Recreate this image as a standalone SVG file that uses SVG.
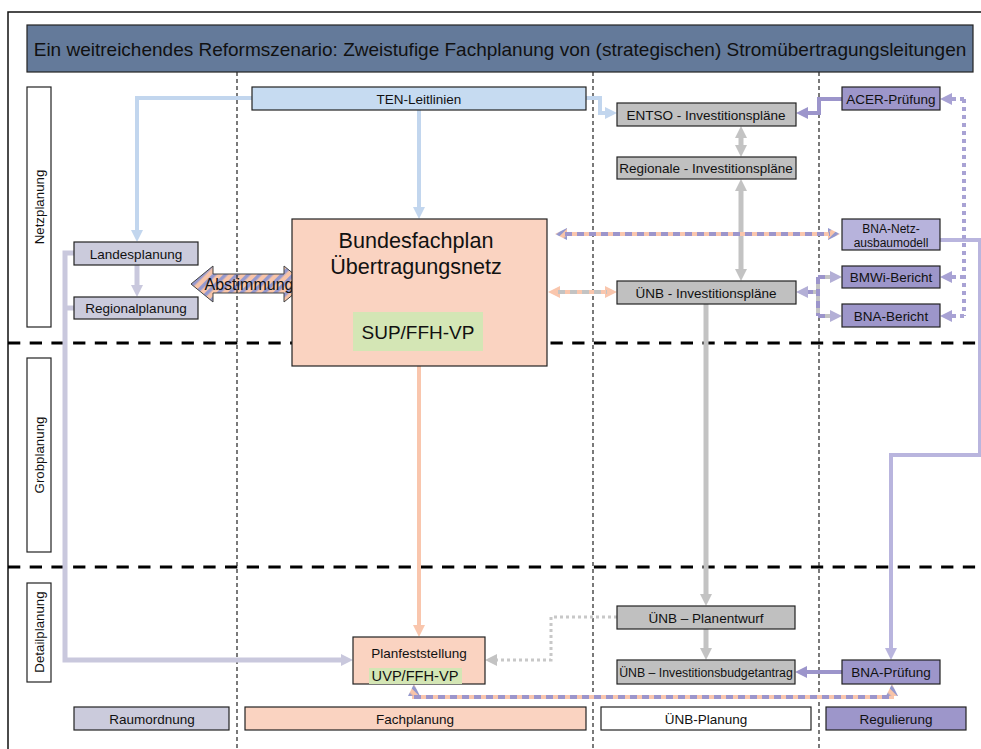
<svg xmlns="http://www.w3.org/2000/svg" width="981" height="749" viewBox="0 0 981 749">
<style>
text{font-family:"Liberation Sans",Arial,sans-serif;fill:#111;}
.lbl{font-size:13.5px;text-anchor:middle;}
.box{stroke:#222;stroke-width:1.2;}
.lav{fill:#CBCBDC;}
.peach{fill:#FAD3C1;}
.gray{fill:#C0C0C0;}
.purple{fill:#9D96CA;}
.green{fill:#D4E6B5;}
.c{fill:none;stroke-linejoin:miter;}
.cBlue{stroke:#C2D6EE;stroke-width:4;}
.cLav{stroke:#C9C8DD;stroke-width:5;}
.cPeach{stroke:#F9C6AD;stroke-width:4;}
.cGray{stroke:#C3C3C3;stroke-width:5;}
.cPur{stroke:#9C95CB;stroke-width:4;}
.cLPur{stroke:#B9B5DE;stroke-width:4;}
.cDotG{stroke:#C8C8C8;stroke-width:3;stroke-dasharray:3,3;}
.cDotP{stroke:#A8A2D4;stroke-width:4;stroke-dasharray:4,4;}
.ov{stroke-dasharray:7,5;}
.hdash{stroke:#000;stroke-width:3;stroke-dasharray:12.3,9.4;fill:none;}
.vdot{stroke:#222;stroke-width:1.2;stroke-dasharray:4,3;fill:none;}
</style>
<defs>
<pattern id="stripes" patternUnits="userSpaceOnUse" width="8" height="8" patternTransform="rotate(45)">
<rect width="8" height="8" fill="#F8C4A8"/>
<rect width="3.5" height="8" fill="#9498CE"/>
</pattern>
<marker id="mBlue" viewBox="0 0 12 12" refX="2" refY="6" markerWidth="12" markerHeight="12" markerUnits="userSpaceOnUse" orient="auto-start-reverse"><path d="M0,0 L12,6 L0,12 z" fill="#C2D6EE"/></marker>
<marker id="mLav" viewBox="0 0 12 12" refX="2" refY="6" markerWidth="12" markerHeight="12" markerUnits="userSpaceOnUse" orient="auto-start-reverse"><path d="M0,0 L12,6 L0,12 z" fill="#C9C8DD"/></marker>
<marker id="mPeach" viewBox="0 0 12 12" refX="2" refY="6" markerWidth="12" markerHeight="12" markerUnits="userSpaceOnUse" orient="auto-start-reverse"><path d="M0,0 L12,6 L0,12 z" fill="#F9C6AD"/></marker>
<marker id="mGray" viewBox="0 0 12 12" refX="2" refY="6" markerWidth="12" markerHeight="12" markerUnits="userSpaceOnUse" orient="auto-start-reverse"><path d="M0,0 L12,6 L0,12 z" fill="#C3C3C3"/></marker>
<marker id="mPur" viewBox="0 0 12 12" refX="2" refY="6" markerWidth="12" markerHeight="12" markerUnits="userSpaceOnUse" orient="auto-start-reverse"><path d="M0,0 L12,6 L0,12 z" fill="#9C95CB"/></marker>
<marker id="mLPur" viewBox="0 0 12 12" refX="2" refY="6" markerWidth="12" markerHeight="12" markerUnits="userSpaceOnUse" orient="auto-start-reverse"><path d="M0,0 L12,6 L0,12 z" fill="#B9B5DE"/></marker>
<marker id="mDotP" viewBox="0 0 12 12" refX="2" refY="6" markerWidth="12" markerHeight="12" markerUnits="userSpaceOnUse" orient="auto-start-reverse"><path d="M0,0 L12,6 L0,12 z" fill="#A8A2D4"/></marker>
<marker id="mMix" viewBox="0 0 12 12" refX="2" refY="6" markerWidth="12" markerHeight="12" markerUnits="userSpaceOnUse" orient="auto-start-reverse"><path d="M0,0 L12,6 L0,12 z" fill="url(#stripes)"/></marker>
<marker id="mMixG" viewBox="0 0 12 12" refX="2" refY="6" markerWidth="12" markerHeight="12" markerUnits="userSpaceOnUse" orient="auto-start-reverse"><path d="M0,0 L12,6 L0,12 z" fill="#B3AFD6"/></marker>
</defs>

<rect width="981" height="749" fill="#fff"/>
<path d="M8,749 V12 H981" fill="none" stroke="#111" stroke-width="1.5"/>

<g id="title">
<rect x="27" y="25" width="946" height="47" fill="#647A9A" stroke="#222" stroke-width="1.2"/>
<text x="500" y="56" font-size="19" text-anchor="middle">Ein weitreichendes Reformszenario: Zweistufige Fachplanung von (strategischen) Stromübertragungsleitungen</text>
</g>

<g id="grid">
<path class="hdash" d="M8,343 H981"/>
<path class="hdash" d="M8,567 H981"/>
</g>

<g id="abstimmung">
<polygon points="191,284 213,266 213,274 284,274 284,266 306,284 284,302 284,293 213,293 213,302" fill="url(#stripes)" stroke="#444" stroke-width="1"/>
<text x="249" y="290" font-size="16" text-anchor="middle">Abstimmung</text>
</g>

<g id="columns">
<path class="vdot" d="M237,72 V749"/>
<path class="vdot" d="M593,72 V749"/>
<path class="vdot" d="M819,72 V749"/>
</g>

<g id="connectors">
<path class="c cBlue" d="M252,98 H137 V232" marker-end="url(#mBlue)"/>
<path class="c cBlue" d="M419,110 V209" marker-end="url(#mBlue)"/>
<path class="c cBlue" d="M586,98 H600 V113 H607" marker-end="url(#mBlue)"/>
<path class="c cLav" d="M137,265 V287" marker-end="url(#mLav)"/>
<path class="c cLav" d="M74,253 H65 V660 H343" marker-end="url(#mLav)"/>
<path class="c cLav" d="M74,308 H65"/>
<path class="c cPeach" d="M419,366 V627" marker-end="url(#mPeach)"/>
<path class="c cGray" d="M741,136 V147" marker-start="url(#mGray)" marker-end="url(#mGray)"/>
<path class="c cGray" d="M741,189 V271" marker-start="url(#mGray)" marker-end="url(#mGray)"/>
<path class="c cGray" d="M706,304 V596" marker-end="url(#mGray)"/>
<path class="c cGray" d="M706,629 V650" marker-end="url(#mGray)"/>
<path class="c cDotG" d="M617,617 H551 V660 H495" marker-end="url(#mGray)"/>
<path class="c cPur" d="M842,672 H805" marker-end="url(#mPur)"/>
<path class="c cPur" d="M842,99 H819 V113 H806" marker-end="url(#mPur)"/>
<path class="c cLPur" d="M940,240 H980 V455 H891 V650" marker-end="url(#mLPur)"/>
<path class="c cDotP" d="M964,99 V316"/>
<path class="c cDotP" d="M964,99 H950" marker-end="url(#mDotP)"/>
<path class="c cDotP" d="M964,277 H950" marker-end="url(#mDotP)"/>
<path class="c cDotP" d="M964,316 H950" marker-end="url(#mDotP)"/>
<path class="c cPeach" d="M565,234 H830" marker-start="url(#mMix)" marker-end="url(#mMix)"/>
<path class="c cPur ov" d="M565,234 H830"/>
<path class="c cPeach" d="M558,292 H607" marker-start="url(#mPeach)" marker-end="url(#mPeach)"/>
<path class="c cGray ov" style="stroke-width:4" d="M558,292 H607"/>
<path class="c cGray" style="stroke-width:4" d="M806,292 H818 M818,277 V316 M818,277 H832 M818,316 H832"/>
<path class="c cPur ov" d="M806,292 H818 M818,277 V316 M818,277 H832 M818,316 H832"/>
<path class="c" d="M806,292 H808" stroke="none" marker-start="url(#mMixG)"/>
<path class="c" d="M830,277 H832" stroke="none" marker-end="url(#mMixG)"/>
<path class="c" d="M830,316 H832" stroke="none" marker-end="url(#mMixG)"/>
<path class="c cPeach" d="M414,694 V697 H892 V694" marker-start="url(#mMix)" marker-end="url(#mMix)"/>
<path class="c cPur ov" d="M414,697 H892"/>
</g>

<g id="lbl-netzplanung">
<rect x="27" y="87" width="24" height="240" fill="#fff" class="box"/>
<text x="44" y="207" font-size="13.3" text-anchor="middle" transform="rotate(-90 44 207)">Netzplanung</text>
</g>
<g id="lbl-grobplanung">
<rect x="27" y="358" width="24" height="194" fill="#fff" class="box"/>
<text x="44" y="455" font-size="13.3" text-anchor="middle" transform="rotate(-90 44 455)">Grobplanung</text>
</g>
<g id="lbl-detailplanung">
<rect x="27" y="583" width="24" height="99" fill="#fff" class="box"/>
<text x="44" y="632" font-size="13.3" text-anchor="middle" transform="rotate(-90 44 632)">Detailplanung</text>
</g>

<g id="ten">
<rect x="252" y="87" width="334" height="23" fill="#C6DBF1" class="box"/>
<text class="lbl" x="419" y="104">TEN-Leitlinien</text>
</g>
<g id="landesplanung">
<rect x="74" y="242" width="124" height="23" class="box lav"/>
<text class="lbl" x="136" y="259">Landesplanung</text>
</g>
<g id="regionalplanung">
<rect x="74" y="297" width="124" height="22" class="box lav"/>
<text class="lbl" x="136" y="313">Regionalplanung</text>
</g>
<g id="bundesfachplan">
<rect x="292" y="219" width="255" height="147" class="box peach"/>
<text x="416" y="248" font-size="21.6" text-anchor="middle">Bundesfachplan</text>
<text x="416" y="274" font-size="21.6" text-anchor="middle">Übertragungsnetz</text>
<rect x="353" y="312" width="130" height="39" class="green"/>
<text x="418" y="339" font-size="19" text-anchor="middle">SUP/FFH-VP</text>
</g>
<g id="planfeststellung">
<rect x="353" y="637" width="132" height="47" class="box peach"/>
<text class="lbl" x="419" y="658">Planfeststellung</text>
<rect x="369" y="668" width="93" height="16" class="green"/>
<text x="415" y="681" font-size="14.6" text-anchor="middle">UVP/FFH-VP</text>
</g>
<g id="entso">
<rect x="617" y="103" width="179" height="23" class="box gray"/>
<text class="lbl" x="706" y="120">ENTSO - Investitionspläne</text>
</g>
<g id="regionale">
<rect x="617" y="157" width="179" height="22" class="box gray"/>
<text class="lbl" x="706" y="173">Regionale - Investitionspläne</text>
</g>
<g id="uenb-invest">
<rect x="617" y="281" width="179" height="23" class="box gray"/>
<text class="lbl" x="706" y="298">ÜNB - Investitionspläne</text>
</g>
<g id="uenb-planentwurf">
<rect x="617" y="606" width="178" height="23" class="box gray"/>
<text class="lbl" x="706" y="623">ÜNB – Planentwurf</text>
</g>
<g id="uenb-budget">
<rect x="617" y="660" width="178" height="24" class="box gray"/>
<text x="706" y="677" font-size="12.3" text-anchor="middle">ÜNB – Investitionsbudgetantrag</text>
</g>
<g id="acer">
<rect x="842" y="87" width="98" height="23" class="box purple"/>
<text class="lbl" x="891" y="104">ACER-Prüfung</text>
</g>
<g id="bna-netz">
<rect x="842" y="219" width="98" height="31" fill="#B7B3DC" class="box"/>
<text x="891" y="233" font-size="12" text-anchor="middle">BNA-Netz-</text>
<text x="891" y="247" font-size="12" text-anchor="middle">ausbaumodell</text>
</g>
<g id="bmwi">
<rect x="842" y="266" width="98" height="22" class="box purple"/>
<text class="lbl" x="891" y="282">BMWi-Bericht</text>
</g>
<g id="bna-bericht">
<rect x="842" y="304" width="98" height="23" class="box purple"/>
<text class="lbl" x="891" y="321">BNA-Bericht</text>
</g>
<g id="bna-pruefung">
<rect x="842" y="660" width="98" height="24" class="box purple"/>
<text class="lbl" x="891" y="677">BNA-Prüfung</text>
</g>

<g id="legend-raumordnung">
<rect x="74" y="707" width="155" height="23" class="box lav"/>
<text class="lbl" x="152" y="724">Raumordnung</text>
</g>
<g id="legend-fachplanung">
<rect x="245" y="707" width="341" height="23" class="box peach"/>
<text class="lbl" x="415" y="724">Fachplanung</text>
</g>
<g id="legend-uenb">
<rect x="601" y="707" width="210" height="23" fill="#fff" class="box"/>
<text class="lbl" x="706" y="724">ÜNB-Planung</text>
</g>
<g id="legend-regulierung">
<rect x="826" y="707" width="140" height="23" class="box purple"/>
<text class="lbl" x="896" y="724">Regulierung</text>
</g>
</svg>
